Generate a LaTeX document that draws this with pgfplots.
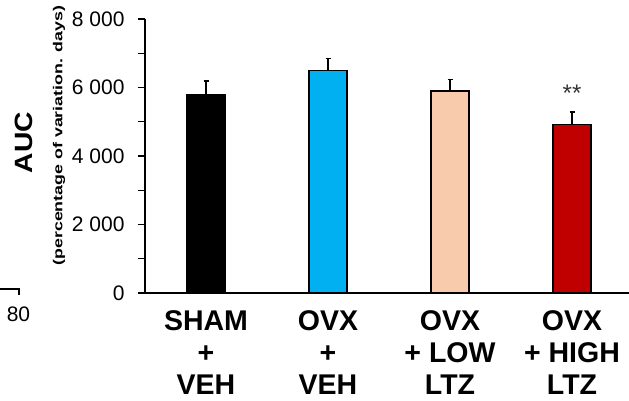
\documentclass[border=0pt]{standalone}
\usepackage{pgfplots}
\pgfplotsset{compat=1.18}
\usepackage{fontspec}
\setmainfont{Liberation Sans}
\usepackage{graphicx}
\definecolor{cblue}{RGB}{0,176,240}
\definecolor{cpeach}{RGB}{248,203,173}
\definecolor{cred}{RGB}{192,0,0}
\begin{document}
\begin{tikzpicture}
\begin{axis}[
  scale only axis, width=484pt, height=274pt,
  xmin=-0.5, xmax=3.467, ymin=0, ymax=8000,
  axis x line=bottom, axis y line=left,
  axis line style={-, line width=1.6pt},
  x axis line style={shorten <=-7pt},
  xtick={0,1,2,3},
  xticklabels={SHAM\\+\\VEH, OVX\\+\\VEH, OVX\\+ LOW\\LTZ, OVX\\+ HIGH\\LTZ},
  major x tick style={draw=none},
  ytick={0,2000,4000,6000,8000},
  yticklabels={0,2 000,4 000,6 000,8 000},
  minor ytick={1000,3000,5000,7000},
  tick align=outside, major tick length=7pt, minor tick length=7pt,
  every tick/.style={black, line width=1.3pt},
  yticklabel style={font=\fontsize{21}{21}\selectfont, xshift=-10pt},
  xticklabel style={font=\bfseries\fontsize{28.5}{32}\selectfont, align=center, yshift=-7pt},
  ybar, bar width=38pt, bar shift=0pt,
  clip=false,
  error bars/y dir=plus, error bars/y explicit,
  error bars/error bar style={line width=1.3pt, black},
  error bars/error mark options={rotate=90, mark size=2.5pt, line width=1.3pt, black},
]
\addplot[draw=black, line width=1.3pt, fill=black] coordinates {(0,5800) +- (0,390)};
\addplot[draw=black, line width=1.3pt, fill=cblue] coordinates {(1,6500) +- (0,350)};
\addplot[draw=black, line width=1.3pt, fill=cpeach] coordinates {(2,5900) +- (0,330)};
\addplot[draw=black, line width=1.3pt, fill=cred] coordinates {(3,4915) +- (0,370)};
\node[font=\fontsize{24}{24}\selectfont, text=black!80] at (axis cs:3,5830) {**};
\end{axis}
\node[rotate=90, font=\bfseries\fontsize{25}{25}\selectfont] at (-121pt,150.5pt) {\scalebox{1.13}[1]{AUC}};
\node[rotate=90, font=\bfseries\fontsize{13}{13}\selectfont] at (-86pt,157.5pt) {\scalebox{1.37}[1]{(percentage of variation. days)}};
\node[font=\fontsize{21}{21}\selectfont] at (-126.5pt,-21.5pt) {80};
\draw[line width=1.2pt] (-145pt,4pt) -- (-126pt,4pt) -- (-126pt,-2pt);
\pgfresetboundingbox
\path[use as bounding box] (-145pt,-108pt) rectangle (484pt,293pt);
\end{tikzpicture}
\end{document}
